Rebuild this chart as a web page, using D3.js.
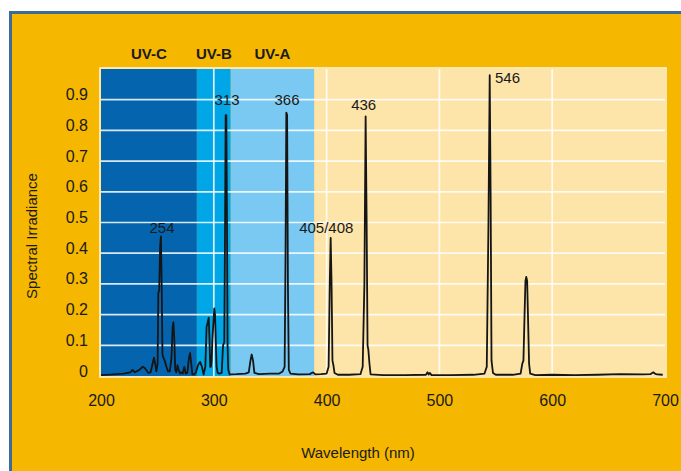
<!DOCTYPE html>
<html>
<head>
<meta charset="utf-8">
<script src="https://cdn.jsdelivr.net/npm/d3@7"></script>
<style>
  html, body { margin: 0; padding: 0; background: #ffffff; }
  svg { display: block; }
  text { font-family: "Liberation Sans", Arial, Helvetica, sans-serif; fill: #1a1a1a; }
</style>
</head>
<body>
<svg id="chart" width="681" height="471"></svg>
<script>
// ---------- DATA ----------
const xTicks = [200, 300, 400, 500, 600, 700];
const yTicks = [0, 0.1, 0.2, 0.3, 0.4, 0.5, 0.6, 0.7, 0.8, 0.9];
const xGrid = [300, 400, 500, 600];
const yGrid = [0.1, 0.2, 0.3, 0.4, 0.5, 0.6, 0.7, 0.8, 0.9];

const bandNames = ["UV-C", "UV-B", "UV-A", "Visible"];
const bandStart = [200, 285, 315, 389];
const bandEnd   = [285, 315, 389, 700];
const bandShowLabel = [true, true, true, false];

const wavelength = [
  200, 210, 220, 226, 228, 230, 234, 237, 239, 242, 244, 246, 247, 248, 249, 250.2,
  250.8, 251.6, 252.4, 253.1, 253.8, 254.5, 255.3, 256.5, 258, 259.5, 261, 262.5, 263.5, 264.2,
  265, 265.8, 266.8, 267.8, 268.8, 270, 271, 272.5, 273.8, 275, 276.5, 278, 279, 280,
  281, 282.5, 284, 286, 287.8, 289.5, 291, 292.5, 293.6, 294.6, 295.5, 296.2, 296.8, 297.4,
  298, 298.8, 299.6, 300.4, 301.1, 301.8, 302.5, 303.4, 305, 307, 308.2, 309.3, 310, 310.5,
  311.1, 311.7, 312.2, 312.8, 314, 320, 328, 331, 332.5, 333.6, 334.8, 336, 340, 350,
  358, 361, 362.8, 363.6, 364.3, 365, 365.7, 366.5, 368, 375, 385, 388, 390, 395,
  400, 401.8, 402.8, 403.6, 404.4, 405.2, 406, 407, 410, 420, 430, 432, 433.5, 434.6,
  435.5, 436.3, 437, 438, 439, 450, 470, 488, 489.5, 490.5, 491.5, 493, 510, 530,
  540, 542, 543.5, 544.6, 545.4, 546.2, 547.5, 550, 565, 572, 573.5, 574.5, 575.5, 576.3,
  577, 577.8, 578.5, 579.5, 580.5, 585, 600, 620, 640, 660, 680, 687, 689.6, 691,
  693, 698
];
const irradiance = [
  0.003, 0.005, 0.008, 0.012, 0.02, 0.012, 0.02, 0.03, 0.025, 0.01, 0.012, 0.045, 0.06, 0.04, 0.015, 0.04,
  0.27, 0.28, 0.42, 0.455, 0.3, 0.07, 0.06, 0.05, 0.03, 0.015, 0.015, 0.06, 0.16, 0.175,
  0.12, 0.02, 0.012, 0.035, 0.02, 0.008, 0.012, 0.008, 0.03, 0.008, 0.01, 0.06, 0.075, 0.04,
  0.005, 0.005, 0.01, 0.035, 0.046, 0.03, 0.005, 0.03, 0.16, 0.175, 0.19, 0.12, 0.03, 0.03,
  0.05, 0.12, 0.17, 0.22, 0.2, 0.11, 0.03, 0.01, 0.008, 0.01, 0.1, 0.11, 0.5, 0.85,
  0.85, 0.5, 0.1, 0.02, 0.005, 0.006, 0.008, 0.012, 0.05, 0.07, 0.05, 0.01, 0.006, 0.008,
  0.008, 0.015, 0.03, 0.4, 0.858, 0.85, 0.3, 0.02, 0.008, 0.005, 0.006, 0.012, 0.005, 0.006,
  0.008, 0.03, 0.3, 0.45, 0.3, 0.05, 0.036, 0.01, 0.004, 0.004, 0.006, 0.03, 0.3, 0.846,
  0.5, 0.1, 0.086, 0.04, 0.005, 0.003, 0.003, 0.004, 0.012, 0.005, 0.01, 0.003, 0.003, 0.004,
  0.008, 0.03, 0.5, 0.98, 0.6, 0.05, 0.01, 0.004, 0.004, 0.008, 0.04, 0.05, 0.2, 0.31,
  0.323, 0.31, 0.2, 0.04, 0.008, 0.003, 0.004, 0.003, 0.004, 0.006, 0.005, 0.006, 0.012, 0.008,
  0.005, 0.004
];

const peakLabels  = ["254", "313", "366", "405/408", "436", "546"];
const peakLabelWl = [254.1, 311.7, 364.9, 399.7, 432.9, 549.3];
const peakLabelY  = [0.466, 0.883, 0.883, 0.466, 0.866, 0.954];
const peakAnchor  = ["middle", "middle", "middle", "middle", "middle", "start"];

// ---------- DRAW ----------
const svg = d3.select("#chart");

// frame
svg.append("rect").attr("x", 10.5).attr("y", 12.5).attr("width", 700).attr("height", 500)
  .attr("fill", "#f5b700").attr("stroke", "#3d6b98").attr("stroke-width", 3);

const x = d3.scaleLinear().domain([200, 700]).range([101, 665]);
const y = d3.scaleLinear().domain([0, 1]).range([376, 69]);

const bandColors = ["#0465ae", "#00a6e6", "#79c9f3", "#fde4a9"];

const plot = svg.append("g");
plot.selectAll("rect.band").data(bandNames).join("rect")
  .attr("class", "band")
  .attr("x", (d, i) => x(bandStart[i]))
  .attr("width", (d, i) => x(bandEnd[i]) - x(bandStart[i]))
  .attr("y", y(1)).attr("height", y(0) - y(1))
  .attr("fill", (d, i) => bandColors[i]);

// gridlines
plot.selectAll("line.hg").data(yGrid).join("line")
  .attr("x1", x(200)).attr("x2", x(700))
  .attr("y1", d => y(d)).attr("y2", d => y(d))
  .attr("stroke", "#ffffff").attr("stroke-opacity", 0.85).attr("stroke-width", 1.7);
plot.selectAll("line.vg").data(xGrid).join("line")
  .attr("x1", d => x(d)).attr("x2", d => x(d))
  .attr("y1", y(1)).attr("y2", y(0))
  .attr("stroke", "#ffffff").attr("stroke-opacity", 0.85).attr("stroke-width", 1.7);

// plot border
plot.append("rect").attr("x", x(200) - 1).attr("y", y(1) - 1)
  .attr("width", x(700) - x(200) + 2).attr("height", y(0) - y(1) + 2)
  .attr("fill", "none").attr("stroke", "#ffffff").attr("stroke-opacity", 0.85).attr("stroke-width", 1.6);

// band labels
svg.selectAll("text.band").data(bandNames.filter((d, i) => bandShowLabel[i])).join("text")
  .attr("class", "band")
  .attr("x", (d, i) => x((bandStart[i] + bandEnd[i]) / 2))
  .attr("y", 58.5)
  .attr("text-anchor", "middle")
  .attr("font-size", 15).attr("font-weight", "bold")
  .text(d => d);

// spectrum line
const pts = wavelength.map((w, i) => [w, irradiance[i]]);
const line = d3.line().x(d => x(d[0])).y(d => y(d[1]));
svg.append("path").datum(pts)
  .attr("d", line)
  .attr("fill", "none").attr("stroke", "#151515").attr("stroke-width", 1.8)
  .attr("stroke-linejoin", "round");

// peak labels
svg.selectAll("text.peak").data(peakLabels).join("text")
  .attr("class", "peak")
  .attr("x", (d, i) => x(peakLabelWl[i]))
  .attr("y", (d, i) => y(peakLabelY[i]))
  .attr("text-anchor", (d, i) => peakAnchor[i])
  .attr("font-size", 15)
  .text(d => d);

// axes
const xAxis = svg.append("g").attr("transform", `translate(0,${y(0)})`)
  .call(d3.axisBottom(x).tickValues(xTicks).tickSize(0).tickFormat(d3.format("d")));
xAxis.select(".domain").remove();
xAxis.selectAll("text").attr("y", 30).attr("dy", 0)
  .attr("font-size", 16).attr("font-family", null).style("fill", "#1a1a1a");

const yAxis = svg.append("g").attr("transform", `translate(88,0)`)
  .call(d3.axisLeft(y).tickValues(yTicks).tickSize(0).tickFormat(d => d === 0 ? "0" : d3.format(".1f")(d)));
yAxis.select(".domain").remove();
yAxis.selectAll("text").attr("x", 0).attr("dy", 0)
  .attr("font-size", 16).attr("font-family", null).style("fill", "#1a1a1a");

// axis titles
svg.append("text").attr("x", 358).attr("y", 458).attr("text-anchor", "middle")
  .attr("font-size", 15).text("Wavelength (nm)");
svg.append("text").attr("transform", "translate(37,236) rotate(-90)")
  .attr("text-anchor", "middle").attr("font-size", 15).text("Spectral Irradiance");
</script>
</body>
</html>
